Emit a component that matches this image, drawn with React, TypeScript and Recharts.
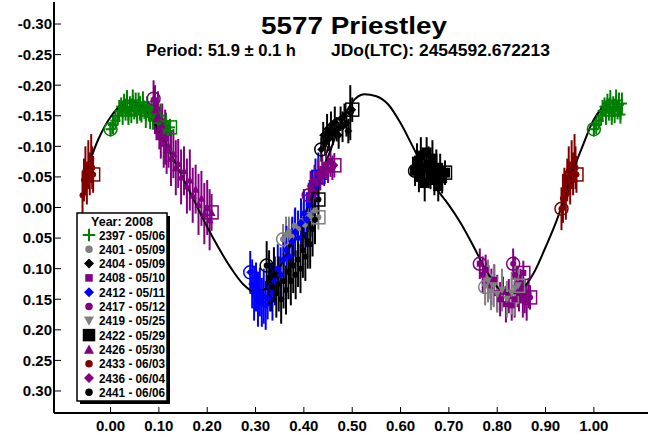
import React from 'react';
import { ScatterChart, Scatter, XAxis, YAxis, ErrorBar } from 'recharts';

type Pt = [number, number, number]; // phase, magnitude, error
type Sym = 'plus' | 'circle' | 'diamond' | 'square' | 'bigSquare' | 'triUp' | 'triDown';

const FONT = '"Liberation Sans", Arial, sans-serif';
const GREEN = '#008000';
const GRAY = '#808080';
const PURPLE = '#800080';
const BLUE = '#0000ff';
const MAROON = '#800000';
const BLACK = '#000000';

const X_TICKS = [0, 0.1, 0.2, 0.3, 0.4, 0.5, 0.6, 0.7, 0.8, 0.9, 1.0];
const Y_TICKS = [-0.3, -0.25, -0.2, -0.15, -0.1, -0.05, 0, 0.05, 0.1, 0.15, 0.2, 0.25, 0.3];
const X_DOMAIN = [-0.117, 1.112];
const Y_DOMAIN = [-0.336, 0.336];

// Fourier fit of the lightcurve
const CURVE_PHASE = [
  -0.05, -0.025, 0, 0.025, 0.05, 0.075, 0.1, 0.125, 0.15, 0.175, 0.2, 0.225, 0.25, 0.275, 0.3,
  0.325, 0.35, 0.375, 0.4, 0.425, 0.45, 0.475, 0.5, 0.525, 0.55, 0.575, 0.6, 0.625, 0.65, 0.675,
  0.7, 0.725, 0.75, 0.775, 0.8, 0.825, 0.85, 0.875, 0.9, 0.925, 0.95, 0.975, 1.0, 1.025, 1.05,
];
const CURVE_MAG = [
  -0.06, -0.112, -0.148, -0.168, -0.172, -0.157, -0.125, -0.087, -0.048, -0.008, 0.032, 0.068, 0.1, 0.126, 0.139,
  0.13, 0.098, 0.058, 0.015, -0.033, -0.083, -0.135, -0.172, -0.185, -0.182, -0.168, -0.138, -0.1, -0.062, -0.03,
  -0.004, 0.026, 0.062, 0.1, 0.13, 0.141, 0.134, 0.108, 0.065, 0.017, -0.045, -0.097, -0.144, -0.167, -0.172,
];

const S2397: Pt[] = [
  [0.0, -0.128, 0.012], [0.005, -0.135, 0.015], [0.01, -0.142, 0.014], [0.015, -0.15, 0.016], [0.018, -0.158, 0.018],
  [0.022, -0.165, 0.015], [0.025, -0.155, 0.02], [0.028, -0.17, 0.016], [0.031, -0.16, 0.018], [0.034, -0.172, 0.02],
  [0.037, -0.15, 0.015], [0.04, -0.165, 0.017], [0.043, -0.158, 0.02], [0.046, -0.175, 0.018], [0.049, -0.16, 0.016],
  [0.052, -0.168, 0.02], [0.055, -0.152, 0.015], [0.058, -0.17, 0.018], [0.061, -0.162, 0.02], [0.064, -0.155, 0.016],
  [0.067, -0.172, 0.018], [0.07, -0.16, 0.015], [0.073, -0.15, 0.02], [0.076, -0.165, 0.017], [0.079, -0.158, 0.016],
  [0.082, -0.148, 0.02], [0.085, -0.162, 0.018], [0.088, -0.142, 0.015], [0.091, -0.155, 0.02], [0.095, -0.145, 0.017],
  [0.099, -0.138, 0.018], [0.103, -0.15, 0.02], [0.107, -0.135, 0.016], [0.111, -0.128, 0.018], [0.115, -0.14, 0.015],
  [0.119, -0.125, 0.017], [0.123, -0.131, 0.014],
];
const S2401: Pt[] = [
  [0.357, 0.052, 0.025], [0.363, 0.045, 0.03], [0.369, 0.04, 0.025], [0.375, 0.048, 0.03], [0.381, 0.03, 0.028],
  [0.388, 0.035, 0.025], [0.395, 0.022, 0.03], [0.402, 0.028, 0.025], [0.409, 0.012, 0.028], [0.416, 0.018, 0.03],
  [0.423, 0.005, 0.025], [0.43, 0.016, 0.02],
];
const S2404: Pt[] = [
  [0.436, -0.095, 0.02], [0.44, -0.118, 0.022], [0.444, -0.105, 0.02], [0.448, -0.128, 0.025], [0.452, -0.112, 0.02],
  [0.456, -0.135, 0.022], [0.46, -0.122, 0.02], [0.464, -0.14, 0.025], [0.468, -0.128, 0.02], [0.472, -0.118, 0.022],
  [0.476, -0.145, 0.02], [0.48, -0.132, 0.025], [0.484, -0.15, 0.02], [0.488, -0.138, 0.022], [0.492, -0.125, 0.02],
  [0.496, -0.155, 0.045], [0.5, -0.16, 0.02],
];
const S2408: Pt[] = [
  [0.764, 0.092, 0.025], [0.77, 0.11, 0.03], [0.776, 0.102, 0.025], [0.782, 0.122, 0.028], [0.788, 0.13, 0.03],
  [0.794, 0.118, 0.025], [0.8, 0.14, 0.03], [0.806, 0.15, 0.028], [0.812, 0.138, 0.025], [0.818, 0.158, 0.03],
  [0.824, 0.145, 0.028], [0.83, 0.16, 0.025], [0.836, 0.15, 0.03], [0.842, 0.135, 0.028], [0.848, 0.125, 0.025],
  [0.854, 0.107, 0.02],
];
const S2412: Pt[] = [
  [0.289, 0.106, 0.035], [0.293, 0.125, 0.04], [0.297, 0.14, 0.045], [0.301, 0.13, 0.04], [0.305, 0.15, 0.045],
  [0.309, 0.138, 0.04], [0.313, 0.155, 0.04], [0.317, 0.145, 0.045], [0.321, 0.16, 0.04], [0.325, 0.148, 0.035],
  [0.33, 0.13, 0.04], [0.335, 0.14, 0.045], [0.34, 0.12, 0.04], [0.346, 0.1, 0.04], [0.352, 0.11, 0.045],
  [0.358, 0.085, 0.04], [0.364, 0.07, 0.04], [0.37, 0.08, 0.045], [0.376, 0.055, 0.04], [0.382, 0.04, 0.04],
  [0.388, 0.05, 0.045], [0.394, 0.025, 0.04], [0.4, 0.01, 0.04], [0.406, 0.02, 0.045], [0.412, -0.005, 0.04],
  [0.418, -0.02, 0.04], [0.424, -0.035, 0.045], [0.43, -0.05, 0.04],
];
const S2417: Pt[] = [
  [0.833, 0.092, 0.025], [0.837, 0.11, 0.03], [0.841, 0.125, 0.028], [0.845, 0.14, 0.03], [0.849, 0.132, 0.025],
  [0.853, 0.15, 0.03], [0.857, 0.145, 0.028], [0.861, 0.155, 0.03], [0.865, 0.14, 0.025], [0.868, 0.147, 0.02],
];
const S2419: Pt[] = [
  [0.775, 0.13, 0.03], [0.781, 0.12, 0.035], [0.787, 0.138, 0.03], [0.793, 0.128, 0.035], [0.8, 0.142, 0.03],
  [0.81, 0.135, 0.035], [0.82, 0.15, 0.03], [0.83, 0.14, 0.035], [0.837, 0.132, 0.045], [0.843, 0.128, 0.03],
];
const S2422: Pt[] = [
  [0.63, -0.06, 0.025], [0.634, -0.075, 0.03], [0.638, -0.05, 0.025], [0.642, -0.085, 0.03], [0.646, -0.065, 0.025],
  [0.65, -0.04, 0.03], [0.654, -0.09, 0.025], [0.658, -0.07, 0.03], [0.662, -0.055, 0.025], [0.666, -0.08, 0.03],
  [0.67, -0.045, 0.025], [0.674, -0.065, 0.03], [0.678, -0.035, 0.025], [0.682, -0.058, 0.03], [0.686, -0.048, 0.025],
  [0.692, -0.057, 0.02],
];
const S2426: Pt[] = [
  [0.089, -0.178, 0.03], [0.092, -0.16, 0.04], [0.095, -0.145, 0.035], [0.098, -0.15, 0.04], [0.101, -0.13, 0.035],
  [0.104, -0.12, 0.04], [0.107, -0.135, 0.035], [0.11, -0.105, 0.04], [0.113, -0.115, 0.045], [0.116, -0.095, 0.04],
  [0.12, -0.1, 0.035], [0.125, -0.08, 0.045], [0.13, -0.088, 0.04], [0.135, -0.065, 0.045], [0.14, -0.072, 0.04],
  [0.146, -0.05, 0.045], [0.152, -0.06, 0.04], [0.158, -0.035, 0.045], [0.164, -0.045, 0.05], [0.17, -0.02, 0.045],
  [0.176, -0.03, 0.04], [0.182, -0.005, 0.05], [0.188, -0.015, 0.045], [0.194, 0.01, 0.05], [0.2, 0.0, 0.045],
  [0.205, 0.02, 0.05], [0.209, 0.008, 0.03],
];
const S2433: Pt[] = [
  [0.933, 0.002, 0.035], [0.936, -0.015, 0.04], [0.939, -0.03, 0.035], [0.942, -0.02, 0.04], [0.945, -0.045, 0.035],
  [0.948, -0.06, 0.04], [0.951, -0.04, 0.035], [0.954, -0.07, 0.04], [0.957, -0.055, 0.035], [0.96, -0.08, 0.04],
  [0.962, -0.065, 0.035], [0.964, -0.054, 0.03],
];
const S2436: Pt[] = [
  [0.41, -0.02, 0.02], [0.414, -0.035, 0.025], [0.418, -0.028, 0.02], [0.422, -0.045, 0.025], [0.426, -0.04, 0.02],
  [0.43, -0.055, 0.025], [0.434, -0.048, 0.02], [0.438, -0.062, 0.025], [0.442, -0.055, 0.02], [0.446, -0.07, 0.025],
  [0.45, -0.06, 0.02], [0.455, -0.075, 0.025], [0.459, -0.065, 0.02], [0.463, -0.069, 0.02],
];
const S2441: Pt[] = [
  [0.323, 0.095, 0.04], [0.328, 0.115, 0.045], [0.333, 0.13, 0.04], [0.338, 0.11, 0.045], [0.343, 0.14, 0.04],
  [0.348, 0.125, 0.045], [0.353, 0.15, 0.04], [0.358, 0.12, 0.045], [0.363, 0.135, 0.04], [0.368, 0.105, 0.045],
  [0.373, 0.12, 0.04], [0.378, 0.095, 0.045], [0.383, 0.11, 0.04], [0.388, 0.085, 0.045], [0.393, 0.1, 0.04],
  [0.398, 0.07, 0.045], [0.403, 0.08, 0.04], [0.408, 0.055, 0.045], [0.413, 0.06, 0.04], [0.418, 0.035, 0.045],
  [0.423, 0.02, 0.04], [0.43, -0.013, 0.03],
];

const SESSIONS: { id: string; date: string; color: string; sym: Sym; points: Pt[] }[] = [
  { id: '2397', date: '05/06', color: GREEN, sym: 'plus', points: S2397 },
  { id: '2401', date: '05/09', color: GRAY, sym: 'circle', points: S2401 },
  { id: '2404', date: '05/09', color: BLACK, sym: 'diamond', points: S2404 },
  { id: '2408', date: '05/10', color: PURPLE, sym: 'square', points: S2408 },
  { id: '2412', date: '05/11', color: BLUE, sym: 'diamond', points: S2412 },
  { id: '2417', date: '05/12', color: PURPLE, sym: 'circle', points: S2417 },
  { id: '2419', date: '05/25', color: GRAY, sym: 'triDown', points: S2419 },
  { id: '2422', date: '05/29', color: BLACK, sym: 'bigSquare', points: S2422 },
  { id: '2426', date: '05/30', color: PURPLE, sym: 'triUp', points: S2426 },
  { id: '2433', date: '06/03', color: MAROON, sym: 'circle', points: S2433 },
  { id: '2436', date: '06/04', color: PURPLE, sym: 'diamond', points: S2436 },
  { id: '2441', date: '06/06', color: BLACK, sym: 'circle', points: S2441 },
];

const curveData = CURVE_PHASE.map((x, i) => ({ x, y: CURVE_MAG[i] }));

// first/last obs of a session get an open circle/square; phases near the edges are repeated one cycle over
const toRows = (pts: Pt[]) => {
  const rows: { x: number; y: number; err: number; mark: string }[] = [];
  pts.forEach(([x, y, err], i) => {
    const mark = i === 0 ? 'start' : i === pts.length - 1 ? 'end' : '';
    rows.push({ x, y, err, mark });
    if (x < 0.06) rows.push({ x: x + 1, y, err, mark });
    if (x > 0.94) rows.push({ x: x - 1, y, err, mark });
  });
  return rows;
};

const drawSym = (sym: Sym, cx: number, cy: number, color: string, k = 1) => {
  switch (sym) {
    case 'plus':
      return (
        <g stroke={color} strokeWidth={2}>
          <line x1={cx - 5 * k} x2={cx + 5 * k} y1={cy} y2={cy} />
          <line x1={cx} x2={cx} y1={cy - 5 * k} y2={cy + 5 * k} />
        </g>
      );
    case 'circle':
      return <circle cx={cx} cy={cy} r={3 * k} fill={color} />;
    case 'diamond':
      return (
        <polygon
          points={`${cx},${cy - 4 * k} ${cx + 4 * k},${cy} ${cx},${cy + 4 * k} ${cx - 4 * k},${cy}`}
          fill={color}
        />
      );
    case 'square':
      return <rect x={cx - 3 * k} y={cy - 3 * k} width={6 * k} height={6 * k} fill={color} />;
    case 'bigSquare':
      return <rect x={cx - 5 * k} y={cy - 5 * k} width={10 * k} height={10 * k} fill={color} />;
    case 'triUp':
      return (
        <polygon
          points={`${cx},${cy - 4 * k} ${cx + 4 * k},${cy + 3.5 * k} ${cx - 4 * k},${cy + 3.5 * k}`}
          fill={color}
        />
      );
    case 'triDown':
      return (
        <polygon
          points={`${cx},${cy + 4 * k} ${cx + 4 * k},${cy - 3.5 * k} ${cx - 4 * k},${cy - 3.5 * k}`}
          fill={color}
        />
      );
  }
  return null;
};

const markShape = (sym: Sym, color: string) => (props: any) => {
  const { cx, cy, payload } = props;
  if (cx == null || cy == null) return <g />;
  return (
    <g>
      {drawSym(sym, cx, cy, color)}
      {payload.mark === 'start' && (
        <circle cx={cx} cy={cy} r={6.5} fill="none" stroke={color} strokeWidth={1.5} />
      )}
      {payload.mark === 'end' && (
        <rect x={cx - 6.5} y={cy - 6.5} width={13} height={13} fill="none" stroke={color} strokeWidth={1.5} />
      )}
    </g>
  );
};

const fmt = (v: number) => (Math.abs(v) < 1e-9 ? '0.00' : v.toFixed(2));
const tickStyle = { fill: '#000', fontSize: 15, fontWeight: 'bold', fontFamily: FONT };
const axisLine = { stroke: '#000', strokeWidth: 2 };
const tickLine = { stroke: '#000', strokeWidth: 1 };

const App: React.FC = () => {
  const legendTop = 213;
  const rowH = 14.3;

  return (
    <div style={{ position: 'absolute', left: 0, top: 0, width: 654, height: 445, background: '#fff' }}>
      <ScatterChart width={654} height={445} margin={{ top: 2, right: 6, bottom: 0, left: 0 }}>
        <XAxis
          type="number"
          dataKey="x"
          domain={X_DOMAIN}
          allowDataOverflow
          ticks={X_TICKS}
          interval={0}
          tickFormatter={fmt}
          height={32}
          tickSize={-6}
          tickMargin={13}
          tick={tickStyle}
          axisLine={axisLine}
          tickLine={tickLine}
        />
        <XAxis
          xAxisId="top"
          orientation="top"
          type="number"
          dataKey="x"
          domain={X_DOMAIN}
          allowDataOverflow
          ticks={X_TICKS}
          interval={0}
          height={0}
          tickSize={-6}
          tick={false}
          axisLine={axisLine}
          tickLine={tickLine}
        />
        <YAxis
          type="number"
          dataKey="y"
          domain={Y_DOMAIN}
          reversed
          allowDataOverflow
          ticks={Y_TICKS}
          interval={0}
          tickFormatter={fmt}
          width={54}
          tickSize={-7}
          tickMargin={9}
          tick={tickStyle}
          axisLine={axisLine}
          tickLine={tickLine}
        />
        <YAxis
          yAxisId="right"
          orientation="right"
          type="number"
          dataKey="y"
          domain={Y_DOMAIN}
          reversed
          allowDataOverflow
          ticks={Y_TICKS}
          interval={0}
          width={0}
          tickSize={-7}
          tick={false}
          axisLine={{ stroke: '#000', strokeWidth: 3 }}
          tickLine={tickLine}
        />
        <Scatter
          data={curveData}
          dataKey="y"
          line={{ stroke: '#000', strokeWidth: 2 }}
          lineJointType="monotoneX"
          shape={() => <g />}
          isAnimationActive={false}
        />
        {SESSIONS.map(s => (
          <Scatter
            key={s.id}
            data={toRows(s.points)}
            dataKey="y"
            fill={s.color}
            shape={markShape(s.sym, s.color)}
            isAnimationActive={false}
          >
            <ErrorBar dataKey="err" direction="y" width={0} stroke={s.color} strokeWidth={2} />
          </Scatter>
        ))}
      </ScatterChart>

      <svg
        width={654}
        height={445}
        style={{ position: 'absolute', left: 0, top: 0, pointerEvents: 'none' }}
        fontFamily={FONT}
        fontWeight="bold"
      >
        <text x={354} y={34} fontSize={24} textAnchor="middle" textLength={186} lengthAdjust="spacingAndGlyphs">
          5577 Priestley
        </text>
        <text x={146} y={56} fontSize={16} textLength={150} lengthAdjust="spacingAndGlyphs">
          Period: 51.9 ± 0.1 h
        </text>
        <text x={331} y={56} fontSize={16} textLength={219} lengthAdjust="spacingAndGlyphs">
          JDo(LTC): 2454592.672213
        </text>

        <rect x={80} y={legendTop + 3} width={90} height={188} fill="#000" />
        <rect x={77} y={legendTop} width={90} height={188} fill="#fff" stroke="#000" strokeWidth={1.5} />
        <text x={122} y={legendTop + 13} fontSize={12.5} textAnchor="middle">
          Year: 2008
        </text>
        {SESSIONS.map((s, i) => {
          const cy = legendTop + 22 + rowH * i;
          return (
            <g key={s.id}>
              {drawSym(s.sym, 89, cy, s.color, 1.25)}
              <text x={99} y={cy + 4.5} fontSize={12.5} textLength={66} lengthAdjust="spacingAndGlyphs">
                {`${s.id} - ${s.date}`}
              </text>
            </g>
          );
        })}
      </svg>
    </div>
  );
};

export default App;
